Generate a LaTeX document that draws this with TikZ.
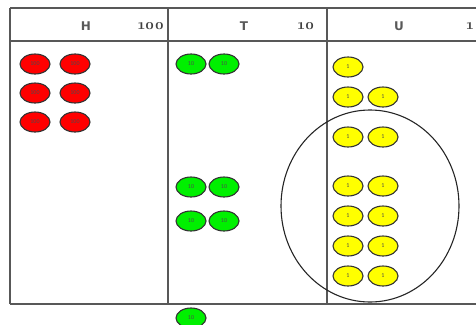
\documentclass[tikz,border=0pt]{standalone}
\usepackage{fontspec}
\setmainfont{Carlito}
\newfontfamily\headfont{DejaVu Sans}
\newfontfamily\numfont[Numbers=OldStyle]{Latin Modern Roman}
\usetikzlibrary{shapes.geometric}
\definecolor{chipred}{HTML}{FF0000}
\definecolor{chipgreen}{HTML}{00F000}
\definecolor{chipyellow}{HTML}{FFFF00}
\definecolor{rulegray}{HTML}{585858}
\begin{document}
\begin{tikzpicture}[x=1pt,y=-1pt,
 chip/.style={ellipse,draw=black!80,line width=1.1pt,minimum width=30pt,
 minimum height=20pt,inner sep=0pt,font=\fontsize{6}{6}\selectfont,text=black!70},
 hundred/.style={chip,fill=chipred},
 ten/.style={chip,fill=chipgreen},
 one/.style={chip,fill=chipyellow},
 rule/.style={draw=rulegray,line width=1.2pt},
 head/.style={font=\headfont\bfseries\fontsize{12}{12}\selectfont,text=black!65},
 place/.style={font=\numfont\bfseries\fontsize{15}{15}\selectfont,text=black!75}]
\clip (0,0) rectangle (476,324);
% chart lines
\coordinate (tl) at (10,8);
\coordinate (tr) at (476,8);
\coordinate (hl) at (10,41);
\coordinate (hr) at (476,41);
\coordinate (bl) at (10,304);
\coordinate (br) at (476,304);
\draw[rule] (tl) -- (tr);
\draw[rule] (hl) -- (hr);
\draw[rule] (bl) -- (br);
\draw[rule] (tl) -- (bl);
\draw[rule] (168,8) -- (168,304);
\draw[rule] (327,8) -- (327,304);
% headers
\node[head] (hH) at (86,26) {H};
\node[place] (pH) at (151,26) {100};
\node[head] (hT) at (244,26) {T};
\node[place] (pT) at (306,26) {10};
\node[head] (hU) at (399,26) {U};
\node[place] (pU) at (470,26) {1};
% hundreds
\foreach \r/\y in {1/64,2/93,3/122}
 \foreach \c/\x in {1/35,2/75}
 \node[hundred] (h\r\c) at (\x,\y) {100};
% tens
\foreach \r/\y in {1/64,2/187,3/221}
 \foreach \c/\x in {1/191,2/224}
 \node[ten] (t\r\c) at (\x,\y) {10};
\node[ten] (t41) at (191,318) {10};
% ones
\node[one] (u01) at (348,67) {1};
\foreach \r/\y in {1/97,2/137,3/186,4/216,5/246,6/276}
 \foreach \c/\x in {1/348,2/383}
 \node[one] (u\r\c) at (\x,\y) {1};
% group of ten ones
\node[ellipse,draw=black!85,line width=1.1pt,minimum width=178pt,
 minimum height=192pt] (group) at (370,206) {};
\end{tikzpicture}
\end{document}
